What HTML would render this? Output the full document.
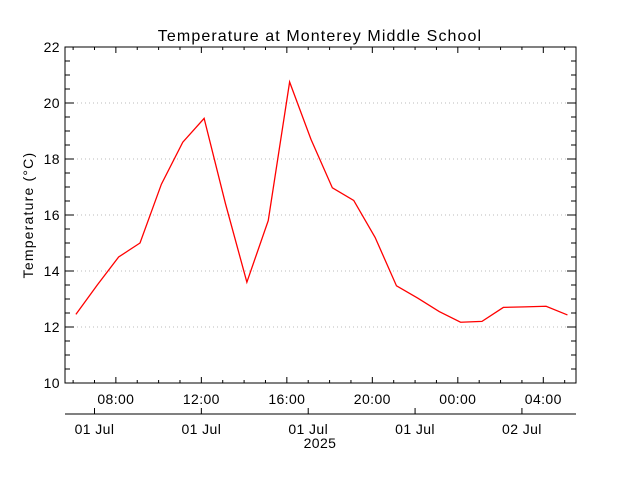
<!DOCTYPE html>
<html><head><meta charset="utf-8"><style>
html,body{margin:0;padding:0;background:#fff;}
svg{display:block;}
text{font-family:"Liberation Sans",sans-serif;font-size:14px;fill:#000;letter-spacing:0.4px;}
</style></head><body>
<svg id="c" width="640" height="480">
<text x="320" y="41" text-anchor="middle" style="font-size:16px;letter-spacing:1.1px">Temperature at Monterey Middle School</text>
<text transform="translate(33,215) rotate(-90)" text-anchor="middle" style="letter-spacing:1.2px">Temperature (°C)</text>
<g id="grid"></g><g id="axes"></g><g id="series"></g>
</svg>
<script>
const hours=[6.13,7.13,8.13,9.13,10.13,11.13,12.13,13.13,14.13,15.13,16.13,17.13,18.13,19.13,20.13,21.13,22.13,23.13,24.13,25.13,26.13,27.13,28.13,29.13];
const temps=[12.45,13.5,14.5,15.0,17.1,18.6,19.45,16.4,13.6,15.8,20.75,18.7,16.97,16.52,15.2,13.47,13.03,12.55,12.17,12.2,12.7,12.72,12.74,12.43];
const yTicks=[10,12,14,16,18,20,22];
const xTickHours=[8,12,16,20,24,28];
const xTickLabels=["08:00","12:00","16:00","20:00","00:00","04:00"];
const dateTickHours=[7,12,17,22,27];
const dateLabels=["01 Jul","01 Jul","01 Jul","01 Jul","02 Jul"];
const L=65,R=576,T=47,B=383,xMin=5.62,xMax=29.53,yMin=10,yMax=22;
const sx=h=>L+(h-xMin)/(xMax-xMin)*(R-L);
const sy=v=>B-(v-yMin)/(yMax-yMin)*(B-T);
const NS="http://www.w3.org/2000/svg";
function mk(tag,parent,attrs){const e=document.createElementNS(NS,tag);for(const k in attrs)e.setAttribute(k,attrs[k]);parent.appendChild(e);return e;}
const grid=document.getElementById('grid'),axes=document.getElementById('axes'),series=document.getElementById('series');
yTicks.forEach(v=>{
 if(v>yMin&&v<yMax){const g=mk('line',grid,{x1:L,x2:R,y1:sy(v),y2:sy(v),stroke:'#bbb','stroke-dasharray':'1,3'});
 
 }
 const t=mk('text',axes,{x:L-5,y:sy(v)+5,'text-anchor':'end'});t.textContent=v;
 
 
});
for(let v=yMin;v<=yMax;v+=0.5){const maj=v%2===0;const len=maj?9:5;
 mk('line',axes,{x1:L,x2:L+len,y1:sy(v),y2:sy(v),stroke:'#000'});
 mk('line',axes,{x1:R,x2:R-len,y1:sy(v),y2:sy(v),stroke:'#000'});}
for(let h=6;h<=29;h++){const maj=xTickHours.includes(h);const len=maj?6:3;
 mk('line',axes,{x1:sx(h),x2:sx(h),y1:B,y2:B-len,stroke:'#000'});
 mk('line',axes,{x1:sx(h),x2:sx(h),y1:T,y2:T+len,stroke:'#000'});}
xTickHours.forEach((h,i)=>{const t=mk('text',axes,{x:sx(h),y:404,'text-anchor':'middle'});t.textContent=xTickLabels[i];
 
 });
const fr=mk('rect',axes,{x:L,y:T,width:R-L,height:B-T,fill:'none',stroke:'#000'});


const da=mk('line',axes,{x1:L,x2:R,y1:414,y2:414,stroke:'#000'});


dateTickHours.forEach((h,i)=>{mk('line',axes,{x1:sx(h),x2:sx(h),y1:414,y2:408,stroke:'#000'});
 const t=mk('text',axes,{x:sx(h),y:434,'text-anchor':'middle'});t.textContent=dateLabels[i];
 
 });
const yr=mk('text',axes,{x:320,y:448,'text-anchor':'middle'});yr.textContent='2025';


const pl=mk('polyline',series,{points:hours.map((h,i)=>sx(h)+','+sy(temps[i])).join(' '),fill:'none',stroke:'#f00','stroke-width':1.3});


</script>
</body></html>
